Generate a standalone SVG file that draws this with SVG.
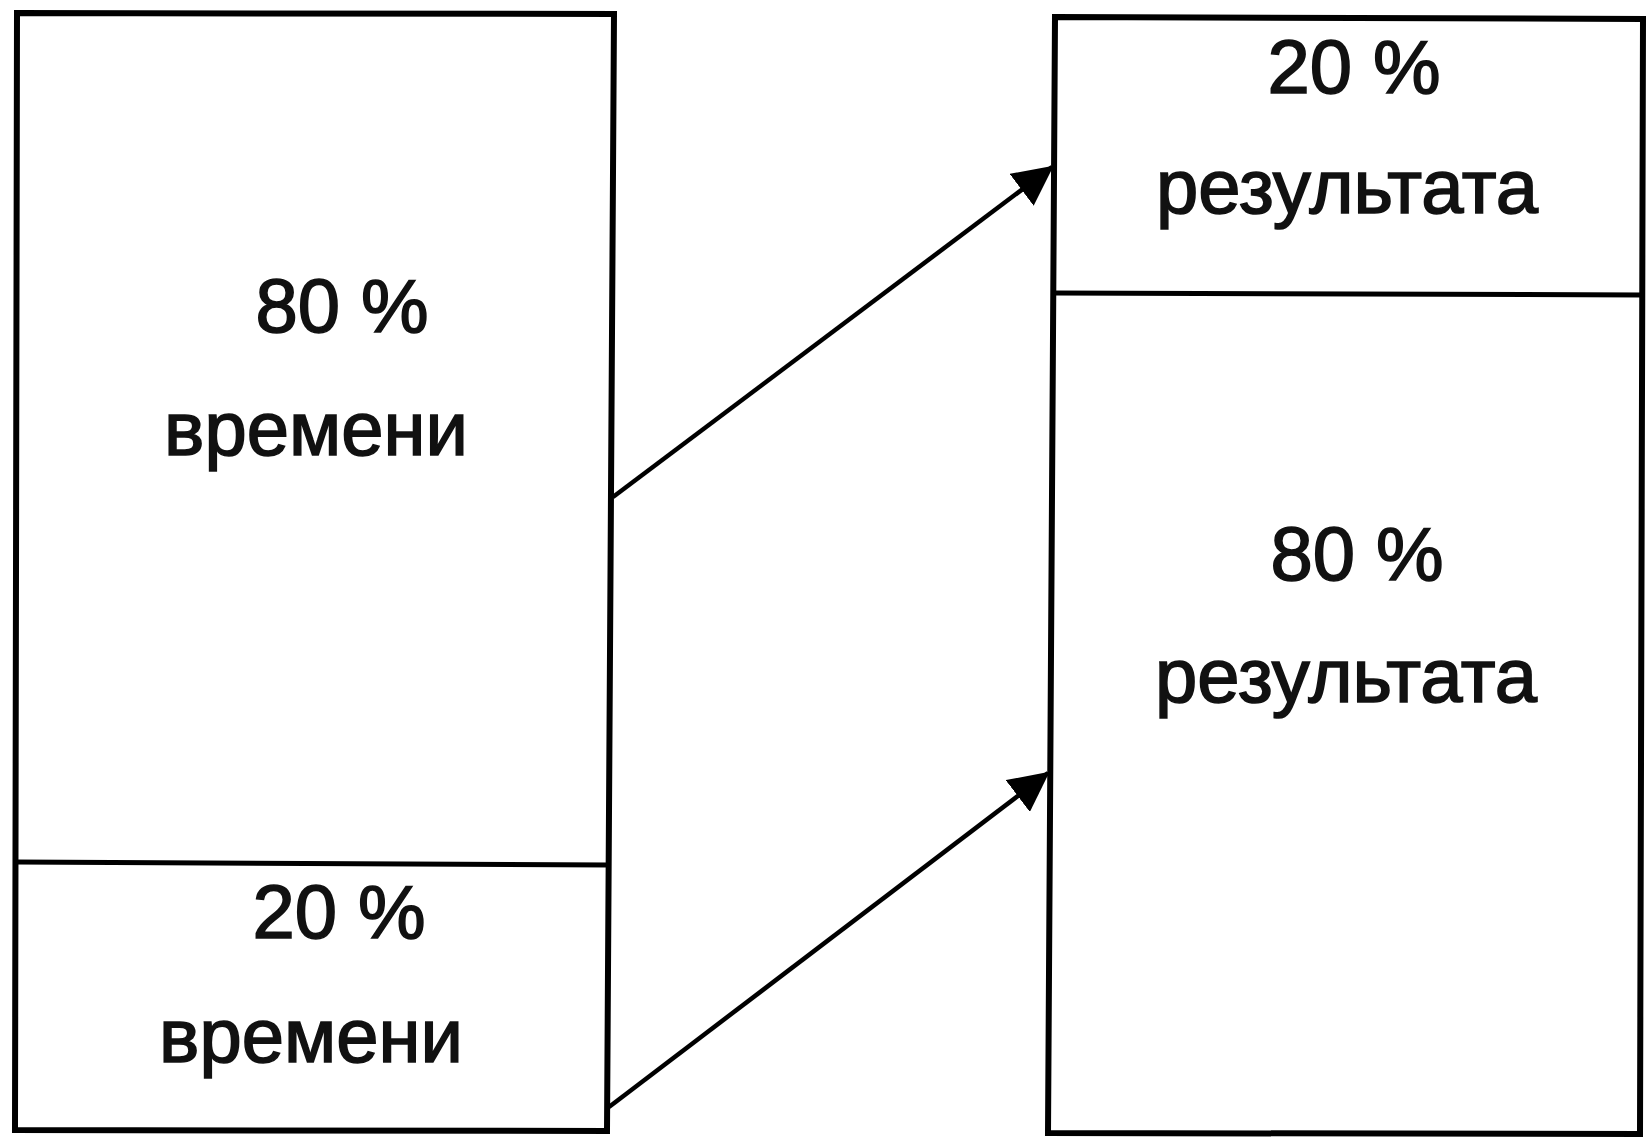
<svg xmlns="http://www.w3.org/2000/svg" width="1648" height="1137" viewBox="0 0 1648 1137">
  <style>
    .box { fill: none; stroke: #000; stroke-width: 6; stroke-linejoin: miter; }
    .div { stroke: #000; stroke-width: 5; }
    .lbl { font-family: "Liberation Sans", Arial, sans-serif; font-size: 76px; fill: #111; stroke: #111; stroke-width: 1.6; text-anchor: middle; }
    .conn { stroke: #000; stroke-width: 4.5; fill: none; }
  </style>
  <defs>
    <marker id="arrow" markerUnits="userSpaceOnUse" viewBox="0 0 40 40" refX="38" refY="20" markerWidth="40" markerHeight="40" orient="auto">
      <path d="M0,0 L40,20 L0,40 z" fill="#000"/>
    </marker>
  </defs>
  <rect width="1648" height="1137" fill="#fff"/>
  <g id="node-time">
    <polygon class="box" points="17,13 614,14 607,1131 15,1130"/>
    <line class="div" x1="16" y1="862" x2="609" y2="865"/>
  </g>
  <g id="node-time-80">
    <text class="lbl" x="342" y="332">80 %</text>
    <text class="lbl" x="316" y="455">времени</text>
  </g>
  <g id="node-time-20">
    <text class="lbl" x="339" y="938">20 %</text>
    <text class="lbl" x="311" y="1062">времени</text>
  </g>
  <g id="node-result">
    <polygon class="box" points="1055,17 1643,19 1640,1134 1048,1133"/>
    <line class="div" x1="1054" y1="293" x2="1642" y2="295"/>
  </g>
  <g id="node-result-20">
    <text class="lbl" x="1354" y="93">20 %</text>
    <text class="lbl" x="1347" y="213">результата</text>
  </g>
  <g id="node-result-80">
    <text class="lbl" x="1357" y="580">80 %</text>
    <text class="lbl" x="1346" y="702">результата</text>
  </g>
  <g id="connectors">
    <line class="conn" x1="613" y1="497" x2="1052" y2="167" marker-end="url(#arrow)"/>
    <line class="conn" x1="609" y1="1107" x2="1048" y2="773" marker-end="url(#arrow)"/>
  </g>
</svg>
